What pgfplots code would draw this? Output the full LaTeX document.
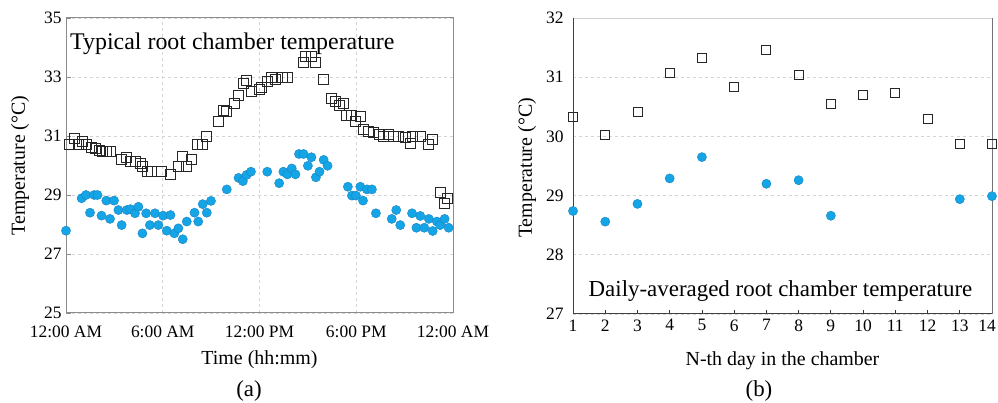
\documentclass[border=0pt]{standalone}
\usepackage{fontspec}
\setmainfont{Liberation Serif}
\usepackage{pgfplots}
\pgfplotsset{compat=1.18}
\definecolor{dotblue}{RGB}{20,165,230}
\definecolor{dotedge}{RGB}{25,130,195}
\definecolor{gridc}{RGB}{212,212,212}
\definecolor{framec}{RGB}{140,140,140}
\begin{document}
\begin{tikzpicture}
\path[use as bounding box] (0,0) rectangle (998bp,403bp);
\pgfplotsset{every axis/.append style={
  scale only axis, clip=false,
  /pgf/number format/assume math mode=true,
  tick label style={font=\fontsize{17.5}{20}\selectfont},
  grid style={gridc, dash pattern=on 3bp off 3bp, line width=0.7bp},
  tick align=inside,
}}
% ---------------- (a) ----------------
\begin{axis}[at={(66bp,90bp)}, anchor=south west, width=387bp, height=295bp,
  xmin=0, xmax=24, ymin=25, ymax=35,
  xtick={0,6,12,18,24},
  xticklabels={12:00 AM,6:00 AM,12:00 PM,6:00 PM,12:00 AM},
  ytick={25,27,...,35},
  grid=major,
  axis line style={framec, line width=1bp},
  xtick pos=left, ytick pos=left,
  xtick style={draw=none}, ytick style={framec, line width=0.8bp},
  major tick length=5bp,
  xticklabel style={yshift=-9bp},
  yticklabel style={xshift=-1bp},
]
\addplot[only marks, mark=square, mark size=5bp, mark options={draw=black!85, line width=0.9bp, fill=none}] table {
0.2 30.73
0.5 30.9
0.76 30.73
1.04 30.8
1.28 30.7
1.6 30.6
1.8 30.58
2.1 30.5
2.28 30.47
2.5 30.47
2.78 30.47
3.45 30.2
3.77 30.28
4.0 30.13
4.28 30.13
4.6 30.07
4.76 29.98
5.05 29.79
5.3 29.79
5.94 29.79
6.5 29.71
6.97 29.98
7.24 30.3
7.49 29.98
7.8 30.2
8.15 30.7
8.45 30.7
8.72 30.98
9.48 31.48
9.75 31.88
9.97 31.82
10.46 32.1
10.72 32.39
10.98 32.79
11.22 32.88
11.49 32.52
11.97 32.57
12.15 32.64
12.52 32.85
12.77 32.99
13.0 32.9
13.4 32.99
13.76 32.99
14.73 33.48
14.88 33.71
15.2 33.71
15.46 33.48
15.97 32.9
16.45 32.28
16.7 32.16
16.95 32.02
17.2 32.1
17.42 31.71
17.73 31.71
17.94 31.48
18.25 31.65
18.45 31.23
18.77 31.17
19.07 31.11
19.45 31.06
19.7 31.0
20.0 31.06
20.28 31.0
20.63 31.0
21.04 30.94
21.35 30.75
21.5 30.98
21.97 30.98
22.5 30.72
22.7 30.89
23.2 29.08
23.47 28.7
23.67 28.89
};
\addplot[only marks, mark=*, mark size=4.6bp, mark options={draw=dotedge, line width=0.4bp, fill=dotblue}] table {
0.0 27.79
0.97 28.89
1.24 29.0
1.49 28.4
1.75 29.0
1.95 29.0
2.2 28.3
2.5 28.81
2.73 28.19
2.98 28.81
3.25 28.49
3.45 27.98
3.77 28.49
4.0 28.52
4.28 28.38
4.49 28.6
4.74 27.7
4.97 28.38
5.2 27.98
5.52 28.38
5.73 27.98
6.02 28.3
6.25 27.79
6.48 28.32
6.72 27.7
6.97 27.87
7.24 27.5
7.49 28.1
7.97 28.4
8.2 28.1
8.48 28.69
8.73 28.4
8.99 28.8
9.97 29.19
10.7 29.58
10.97 29.47
11.2 29.68
11.47 29.79
12.48 29.79
13.22 29.4
13.48 29.79
13.73 29.7
14.0 29.9
14.23 29.7
14.45 30.39
14.73 30.39
15.0 29.99
15.22 30.28
15.5 29.6
15.72 29.79
15.98 30.19
16.22 29.99
17.48 29.28
17.73 28.98
17.98 28.98
18.25 29.28
18.42 28.81
18.66 29.19
18.97 29.19
19.22 28.38
20.2 28.19
20.48 28.49
20.73 27.98
21.46 28.38
21.73 27.89
21.97 28.29
22.22 27.89
22.5 28.19
22.74 27.78
23.0 28.1
23.2 27.98
23.48 28.19
23.73 27.89
};
\end{axis}
% ---------------- (b) ----------------
\begin{axis}[at={(573bp,89bp)}, anchor=south west, width=419bp, height=296bp,
  xmin=1, xmax=14, ymin=27, ymax=32,
  xtick={1,...,13}, ytick={27,...,32},
  extra x ticks={14},
  extra x tick style={xticklabel style={xshift=-5bp}},
  ymajorgrids,
  axis line style={gray!35, line width=1bp},
  xtick pos=left, ytick style={draw=none},
  xtick style={black!80, line width=0.8bp},
  major tick length=4bp,
  xticklabel style={yshift=-2bp},
  yticklabel style={xshift=-6bp},
]
\addplot[only marks, mark=square, mark size=4.5bp, mark options={draw=black!85, line width=0.9bp, fill=white}] table {
1 30.33
2 30.02
3 30.41
4 31.08
5 31.33
6 30.84
7 31.46
8 31.04
9 30.54
10 30.70
11 30.73
12 30.29
13 29.87
14 29.87
};
\addplot[only marks, mark=*, mark size=4.6bp, mark options={draw=dotedge, line width=0.4bp, fill=dotblue}] table {
1 28.74
2 28.56
3 28.86
4 29.29
5 29.65
7 29.20
8 29.26
9 28.66
13 28.94
14 28.99
};
\draw[black!75, line width=1bp] (rel axis cs:0,1) -- (rel axis cs:0,0) -- (rel axis cs:1,0);
\draw[black!55, line width=1bp] (rel axis cs:1,0) -- (rel axis cs:1,1);
\end{axis}
% ---------------- labels ----------------
\node[anchor=base west, font=\fontsize{24}{28}\selectfont, inner sep=0] at (70bp,353bp) {Typical root chamber temperature};
\node[anchor=base, font=\fontsize{23}{27}\selectfont, inner sep=0] at (780.5bp,106bp) {Daily-averaged root chamber temperature};
\node[font=\fontsize{20}{24}\selectfont] at (259.5bp,43bp) {Time (hh:mm)};
\node[font=\fontsize{20}{24}\selectfont] at (782.5bp,42.5bp) {N-th day in the chamber};
\node[font=\fontsize{23}{27}\selectfont] at (249bp,12bp) {(a)};
\node[font=\fontsize{23}{27}\selectfont] at (759bp,12bp) {(b)};
\node[rotate=90, font=\fontsize{20}{24}\selectfont] at (20bp,237.5bp) {Temperature (°C)};
\node[rotate=90, font=\fontsize{20}{24}\selectfont] at (527bp,235bp) {Temperature (°C)};
\end{tikzpicture}
\end{document}
